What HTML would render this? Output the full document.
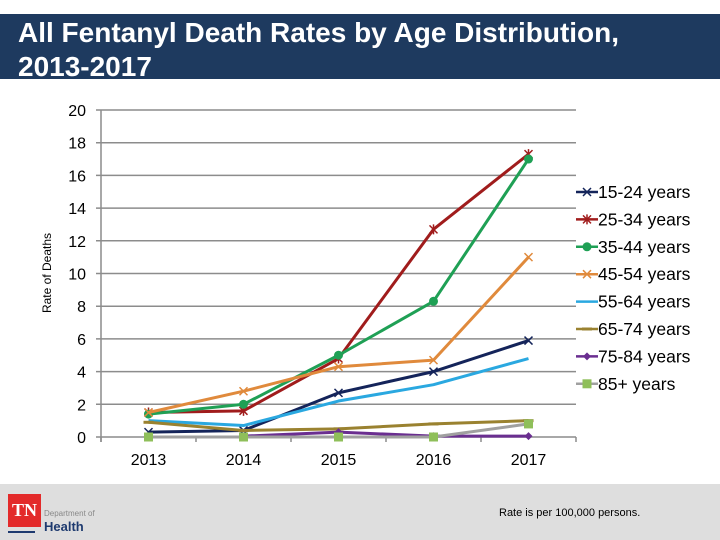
<!DOCTYPE html>
<html><head><meta charset="utf-8"><style>
body{margin:0;width:720px;height:540px;background:#fff;overflow:hidden;font-family:"Liberation Sans",sans-serif;position:relative}
#hdr{position:absolute;left:0;top:14px;width:720px;height:65px;background:#1e3a5f;overflow:hidden}
#title{position:absolute;left:18px;top:2px;color:#fff;font-weight:bold;font-size:28px;line-height:34px;white-space:nowrap}
#foot{position:absolute;left:0;top:484px;width:720px;height:56px;background:#dedede}
</style></head><body>
<div id="hdr"><div id="title">All Fentanyl Death Rates by Age Distribution,<br>2013-2017</div></div>
<div id="foot">
<div style="position:absolute;left:8px;top:10px;width:33px;height:33px;background:#e32a2a;color:#fff;font-family:'Liberation Serif',serif;font-weight:bold;font-size:18px;line-height:33px;text-align:center">TN</div>
<div style="position:absolute;left:8px;top:47px;width:27px;height:2px;background:#1e3a6f"></div>
<div style="position:absolute;left:44px;top:25px;font-size:8px;color:#888">Department of</div>
<div style="position:absolute;left:44px;top:35px;font-size:13px;font-weight:bold;color:#1e3a6f">Health</div>
<div style="position:absolute;left:499px;top:23px;font-size:11px;color:#000">Rate is per 100,000 persons.</div>
</div>
<svg id="chart" width="720" height="540" style="position:absolute;left:0;top:0"></svg>
<script>
const categories=["2013","2014","2015","2016","2017"];
const yTicks=[0,2,4,6,8,10,12,14,16,18,20];
const seriesNames=["15-24 years","25-34 years","35-44 years","45-54 years","55-64 years","65-74 years","75-84 years","85+ years"];
const s1524=[0.3,0.4,2.7,4.0,5.9];
const s2534=[1.5,1.6,4.8,12.7,17.3];
const s3544=[1.4,2.0,5.0,8.3,17.0];
const s4554=[1.5,2.8,4.3,4.7,11.0];
const s5564=[1.0,0.7,2.2,3.2,4.8];
const s6574=[0.9,0.4,0.5,0.8,1.0];
const s7584=[null,0.05,0.3,0.05,0.05];
const s85=[0,0,0,0,0.8];
const seriesData=[s1524,s2534,s3544,s4554,s5564,s6574,s7584,s85];
const colors=["#14245a","#a01c1c","#1fa055","#e08a3c","#2aa8e0","#9a8230","#6a2e90","#8fbf5a"];
const markers=["x","star","circle","x","none","dash","diamond","square"];
const svg=document.getElementById('chart');const NS="http://www.w3.org/2000/svg";
const X0=101,X1=576,Y0=437,Y20=110;
const xs=i=>X0+(X1-X0)/categories.length*(i+0.5);
const ys=v=>Y0-(Y0-Y20)*v/20;
function mk(t,a,p){const e=document.createElementNS(NS,t);for(const k in a)e.setAttribute(k,a[k]);(p||svg).appendChild(e);return e;}
yTicks.forEach(v=>{
 const g=mk('line',{x1:X0-5,x2:X1,y1:ys(v),y2:ys(v),stroke:'#8c8c8c','stroke-width':1.5});
 
 
 const t=mk('text',{x:86,y:ys(v)+6,'text-anchor':'end','font-size':16,'font-family':'Liberation Sans, sans-serif'});t.textContent=v;
 
 
});
const ax=mk('line',{x1:X0,x2:X0,y1:Y20,y2:Y0+5,stroke:'#8c8c8c','stroke-width':1.5});


for(let i=0;i<=categories.length;i++){const x=X0+(X1-X0)/categories.length*i;const tk=mk('line',{x1:x,x2:x,y1:Y0,y2:Y0+5,stroke:'#8c8c8c','stroke-width':1.5});
 
 }
categories.forEach((c,i)=>{const t=mk('text',{x:xs(i),y:465,'text-anchor':'middle','font-size':16,'font-family':'Liberation Sans, sans-serif'});t.textContent=c;
 
 });
const yt=mk('text',{x:51,y:273,'text-anchor':'middle','font-size':12,'font-family':'Liberation Sans, sans-serif',transform:'rotate(-90 51 273)'});yt.textContent='Rate of Deaths';


function marker(type,x,y,c,g){
 if(type==='x'){mk('path',{d:`M${x-4} ${y-4}L${x+4} ${y+4}M${x-4} ${y+4}L${x+4} ${y-4}`,stroke:c,'stroke-width':1.5},g);}
 else if(type==='star'){mk('path',{d:`M${x-4} ${y-4}L${x+4} ${y+4}M${x-4} ${y+4}L${x+4} ${y-4}M${x} ${y-5}L${x} ${y+5}`,stroke:c,'stroke-width':1.5},g);}
 else if(type==='circle'){mk('circle',{cx:x,cy:y,r:4.5,fill:c},g);}
 else if(type==='square'){mk('rect',{x:x-4.5,y:y-4.5,width:9,height:9,fill:c},g);}
 else if(type==='diamond'){mk('path',{d:`M${x} ${y-4}L${x+4} ${y}L${x} ${y+4}L${x-4} ${y}Z`,fill:c},g);}
 else if(type==='dash'){mk('rect',{x:x-5,y:y-1.5,width:10,height:3,fill:c},g);}
}
seriesData.forEach((d,si)=>{
 const g=mk('g',{});
 
 
 let pts=[];d.forEach((v,i)=>{if(v!==null)pts.push([xs(i),ys(v)]);});
 const lc=si===7?'#a0a0a0':colors[si];
 mk('polyline',{points:pts.map(p=>p.join(',')).join(' '),fill:'none',stroke:lc,'stroke-width':3,'stroke-linejoin':'round'},g);
 pts.forEach(p=>marker(markers[si],p[0],p[1],colors[si],g));
 const ly=192+si*27.4;
 const le=mk('g',{});
 
 
 mk('line',{x1:576,x2:598,y1:ly,y2:ly,stroke:lc,'stroke-width':2.5},le);
 marker(markers[si],587,ly,colors[si],le);
 const t=mk('text',{x:598,y:ly+6,'font-size':17.5,'font-family':'Liberation Sans, sans-serif'},le);t.textContent=seriesNames[si];
});
</script>
</body></html>
